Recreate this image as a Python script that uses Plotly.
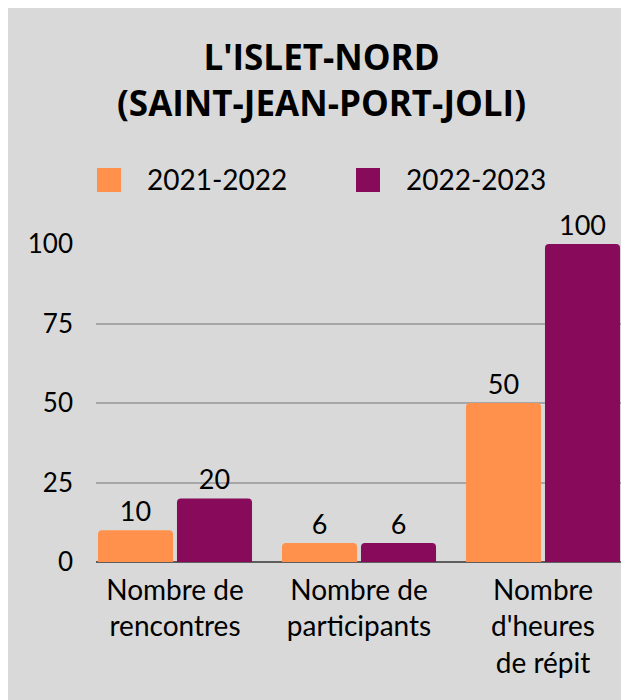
import plotly.graph_objects as go

categories = ["Nombre de<br>rencontres", "Nombre de<br>participants", "Nombre<br>d'heures<br>de répit"]
series_names = ["2021-2022", "2022-2023"]
values_2021 = [10, 6, 50]
values_2022 = [20, 6, 100]
y_ticks = [0, 25, 50, 75, 100]
title_lines = ["L'ISLET-NORD", "(SAINT-JEAN-PORT-JOLI)"]

colors = ["#FF914D", "#880A5B"]
FONT = "Lato"
TFONT = "Open Sans"
W, H = 621, 692
ML, MR, MT, MB = 88, 7, 236, 138
PW, PH = W - ML - MR, H - MT - MB

def px(x):
    return (x - ML) / PW

def py(y):
    return (MT + PH - y) / PH

fig = go.Figure()
for name, vals, col in zip(series_names, [values_2021, values_2022], colors):
    fig.add_trace(go.Bar(
        x=categories, y=vals, name=name, marker_color=col,
        marker_line_width=0,
        text=[str(v) for v in vals], textposition="outside",
        textfont=dict(family=FONT, size=27, color="#000000"),
        cliponaxis=False, showlegend=False,
    ))

annotations = []
annotations.append(dict(text="<br>".join(title_lines), x=px(313), y=py(72), xref="paper", yref="paper",
                        showarrow=False, xanchor="center", yanchor="middle", align="center",
                        font=dict(family=TFONT, size=35, color="#000000", weight="bold")))

shapes = []
legend_sq_x = [89, 348]
legend_txt_x = [137, 396]
for name, col, sx, tx in zip(series_names, colors, legend_sq_x, legend_txt_x):
    shapes.append(dict(type="rect", xref="paper", yref="paper",
                       x0=px(sx), x1=px(sx + 24), y0=py(184), y1=py(160),
                       fillcolor=col, line=dict(width=0)))
    annotations.append(dict(text=name, x=px(tx), y=py(171), xref="paper", yref="paper",
                            showarrow=False, xanchor="left", yanchor="middle",
                            font=dict(family=FONT, size=28, color="#000000")))

fig.update_layout(
    width=W, height=H,
    margin=dict(l=ML, r=MR, t=MT, b=MB, pad=0),
    paper_bgcolor="#D9D9D9", plot_bgcolor="#D9D9D9",
    barmode="group", bargap=0.1413, bargroupgap=0.05, barcornerradius=4,
    font=dict(family=FONT, size=26, color="#000000"),
    annotations=annotations, shapes=shapes,
    showlegend=False,
)
fig.update_xaxes(range=[-0.4293, 2.4293], showgrid=False, showline=False, ticks="",
                 tickfont=dict(family=FONT, size=28, color="#000000"), ticklabelstandoff=9,
                 fixedrange=True)
fig.update_yaxes(range=[0, 100], tickvals=y_ticks, showgrid=True, gridcolor="#A6A6A6", gridwidth=2,
                 zeroline=True, zerolinecolor="#5E5E5E", zerolinewidth=2, showline=False, ticks="",
                 tickfont=dict(family=FONT, size=26, color="#000000"), ticklabelstandoff=22,
                 fixedrange=True)

fig.write_html("out.html")
